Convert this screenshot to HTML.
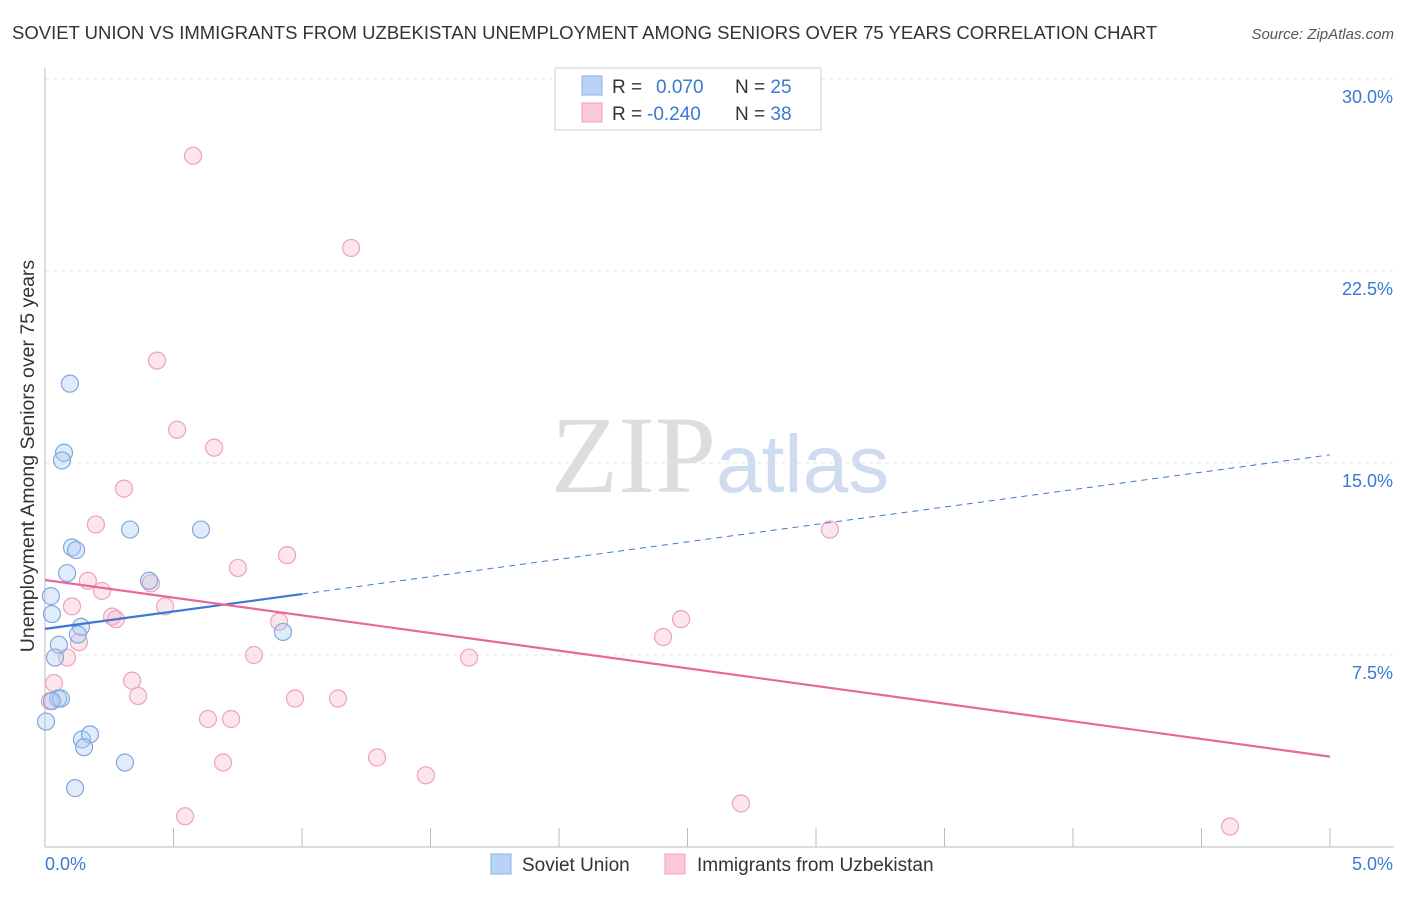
<!DOCTYPE html>
<html><head><meta charset="utf-8"><style>
body{margin:0;background:#fff;font-family:"Liberation Sans",sans-serif;}
</style></head><body>
<svg width="1406" height="892" id="c" xmlns="http://www.w3.org/2000/svg" font-family="Liberation Sans, sans-serif">
<text x="12" y="39" font-size="18.5" fill="#333">SOVIET UNION VS IMMIGRANTS FROM UZBEKISTAN UNEMPLOYMENT AMONG SENIORS OVER 75 YEARS CORRELATION CHART</text>
<text x="1394" y="39" font-size="15" fill="#555" text-anchor="end" font-style="italic">Source: ZipAtlas.com</text>
<text x="716" y="492" font-size="110" fill="#ddd" text-anchor="end" font-family="Liberation Serif, serif">ZIP</text>
<text x="716" y="492" font-size="82" fill="#cfdcf0">atlas</text>
<text x="34" y="456" font-size="19.5" fill="#333" text-anchor="middle" transform="rotate(-90 34 456)">Unemployment Among Seniors over 75 years</text>
<g id="axes"></g><g id="marks"></g>
<g>
<rect x="555" y="68" width="266" height="62" fill="#fff" stroke="#ccc"/>
<rect x="582" y="76" width="20" height="19" fill="#b8d3f5" stroke="#8ab2e6"/>
<rect x="582" y="103" width="20" height="19" fill="#fbc8d7" stroke="#efa0b8"/>
<text x="612" y="93" font-size="19" fill="#333">R = <tspan fill="#3a78d4" x="656">0.070</tspan><tspan x="735" fill="#333">N = </tspan><tspan fill="#3a78d4">25</tspan></text>
<text x="612" y="120" font-size="19" fill="#333">R = <tspan fill="#3a78d4" x="647">-0.240</tspan><tspan x="735" fill="#333">N = </tspan><tspan fill="#3a78d4">38</tspan></text>
</g>
<g>
<rect x="491" y="854" width="20" height="20" fill="#b8d3f5" stroke="#8ab2e6"/>
<text x="522" y="871" font-size="19" fill="#333">Soviet Union</text>
<rect x="665" y="854" width="20" height="20" fill="#fbc8d7" stroke="#efa0b8"/>
<text x="697" y="871" font-size="19" fill="#333">Immigrants from Uzbekistan</text>
</g>
</svg>
<script>
const yTicks=[7.5,15,22.5,30];
const yTickLabels=["7.5%","15.0%","22.5%","30.0%"];
const blueX=[0.097,0.074,0.066,0.331,0.607,0.105,0.121,0.086,0.405,0.023,0.027,0.140,0.926,0.054,0.039,0.051,0.062,0.027,0.004,0.144,0.175,0.152,0.311,0.117,0.128];
const blueY=[18.1,15.4,15.1,12.4,12.4,11.7,11.6,10.7,10.4,9.8,9.1,8.6,8.4,7.9,7.4,5.8,5.8,5.7,4.9,4.2,4.4,3.9,3.3,2.3,8.3];
const pinkX=[0.576,1.191,0.436,0.514,0.658,0.307,0.198,0.942,0.751,0.167,0.222,0.412,0.105,0.467,0.261,0.276,0.132,0.086,0.911,0.813,3.054,2.475,2.405,1.650,0.035,0.339,0.362,0.973,1.140,0.019,0.634,0.724,0.693,1.292,1.482,2.708,0.545,4.611];
const pinkY=[27.0,23.4,19.0,16.3,15.6,14.0,12.6,11.4,10.9,10.4,10.0,10.3,9.4,9.4,9.0,8.9,8.0,7.4,8.8,7.5,12.4,8.9,8.2,7.4,6.4,6.5,5.9,5.8,5.8,5.7,5.0,5.0,3.3,3.5,2.8,1.7,1.2,0.8];
const blueFit=[8.52,1.36]; const pinkFit=[10.43,-1.38];
const X=v=>45+v*257, Y=v=>847-v*25.6, NS="http://www.w3.org/2000/svg";
function mk(p,t,a){const e=document.createElementNS(NS,t);for(const k in a)e.setAttribute(k,a[k]);p.appendChild(e);return e;}
const ax=document.getElementById('axes'), mg=document.getElementById('marks');
yTicks.forEach((t,i)=>{const l=mk(ax,'line',{x1:45,x2:1394,y1:Y(t),y2:Y(t),stroke:'#e4e4e4','stroke-dasharray':'4 4'});


const tx=mk(ax,'text',{x:1393,y:Y(t)+24,'font-size':18,fill:'#3a78d4','text-anchor':'end'});tx.textContent=yTickLabels[i];

});
const a1=mk(ax,'line',{x1:45,x2:1394,y1:847,y2:847,stroke:'#bbb'});


const a2=mk(ax,'line',{x1:45,x2:45,y1:68,y2:847,stroke:'#bbb'});


for(let i=0;i<=10;i++){const t=mk(ax,'line',{x1:X(i*0.5),x2:X(i*0.5),y1:828,y2:847,stroke:'#bbb'});

}
const xl0=mk(ax,'text',{x:45,y:870,'font-size':18,fill:'#3a78d4'});xl0.textContent='0.0%';


const xl1=mk(ax,'text',{x:1393,y:870,'font-size':18,fill:'#3a78d4','text-anchor':'end'});xl1.textContent='5.0%';


pinkX.forEach((v,i)=>{const c=mk(mg,'circle',{cx:X(v),cy:Y(pinkY[i]),r:8.5,fill:'rgba(248,180,200,0.35)',stroke:'#eda3ba','stroke-width':1.2});

});
blueX.forEach((v,i)=>{const c=mk(mg,'circle',{cx:X(v),cy:Y(blueY[i]),r:8.5,fill:'rgba(170,200,240,0.35)',stroke:'#7ea8e0','stroke-width':1.2});

});
const bf=x=>blueFit[0]+blueFit[1]*x, pf=x=>pinkFit[0]+pinkFit[1]*x;
const b1=mk(mg,'line',{x1:X(0),y1:Y(bf(0)),x2:X(1),y2:Y(bf(1)),stroke:'#3a78d4','stroke-width':2.2});


const b2=mk(mg,'line',{x1:X(1),y1:Y(bf(1)),x2:X(5),y2:Y(bf(5)),stroke:'#3a78d4','stroke-width':1,'stroke-dasharray':'6 5'});


const p1=mk(mg,'line',{x1:X(0),y1:Y(pf(0)),x2:X(5),y2:Y(pf(5)),stroke:'#e8689a','stroke-width':2.2});


</script>
</body></html>
